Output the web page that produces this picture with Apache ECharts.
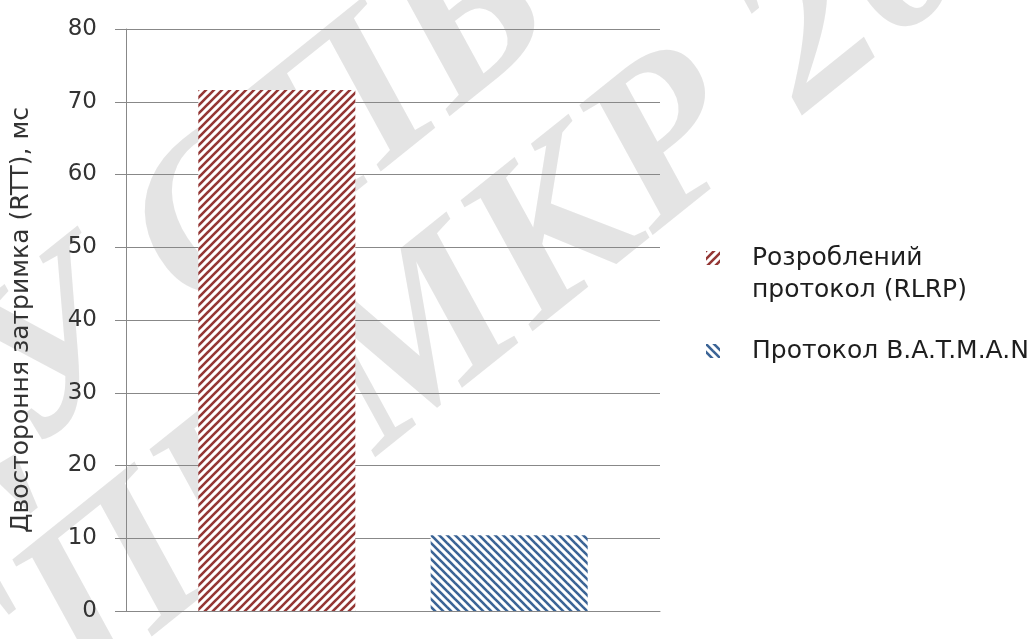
<!DOCTYPE html>
<html>
<head>
<meta charset="utf-8">
<script src="https://cdn.jsdelivr.net/npm/echarts@6/dist/echarts.min.js"></script>
<style>
  html, body { margin: 0; padding: 0; background: #fff; }
  #chart { width: 1029px; height: 639px; }
</style>
</head>
<body>
<div id="chart"></div>
<script>
// Round-trip time of the two routing protocols
const seriesNames = ['Розроблений\nпротокол (RLRP)', 'Протокол B.A.T.M.A.N'];
const rttValues = [71.6, 10.4];
const yTicks = { min: 0, max: 80, step: 10 };
const axisTitle = 'Двостороння затримка (RTT), мс';
const watermarkText = 'ДУ СПБ МКР 2024';

// Diagonal hatch tile; dir = 1 for "/" strokes, -1 for "\" strokes
function hatch(color, dir) {
  const s = 8;
  const c = document.createElement('canvas');
  c.width = s; c.height = s;
  const g = c.getContext('2d');
  g.fillStyle = '#fff';
  g.fillRect(0, 0, s, s);
  g.strokeStyle = color;
  g.lineWidth = 2.6;
  g.lineCap = 'square';
  const segs = dir > 0
    ? [[0, s, s, 0], [-s / 2, s / 2, s / 2, -s / 2], [s / 2, s * 1.5, s * 1.5, s / 2]]
    : [[0, 0, s, s], [-s / 2, s / 2, s / 2, s * 1.5], [s / 2, -s / 2, s * 1.5, s / 2]];
  segs.forEach(([x1, y1, x2, y2]) => {
    g.beginPath(); g.moveTo(x1, y1); g.lineTo(x2, y2); g.stroke();
  });
  return { image: c, repeat: 'repeat' };
}

const fills = [hatch('#943634', 1), hatch('#3b6496', -1)];
const gridColor = '#888888';
const textColor = '#333333';
const legendColor = '#1e1e1e';
const font = 'DejaVu Sans';

// legend swatch sitting at the top of a taller box, so it lines up with the first text line
const topSwatch = 'path://M0,0L14,0L14,14L0,14Z M0,46L14,46';

// two diagonal rows of the watermark stamp
const stampRows = [{ x: -125, y: 502 }, { x: -354, y: 967 }];

const chart = echarts.init(document.getElementById('chart'), null, { renderer: 'canvas' });

chart.setOption({
  animation: false,
  backgroundColor: '#fff',
  grid: { left: 126, right: 369, top: 29, bottom: 28, containLabel: false, outerBoundsMode: 'none' },
  xAxis: {
    type: 'category',
    data: [''],
    axisLine: { show: true, lineStyle: { color: gridColor, width: 1 } },
    axisTick: { show: false },
    axisLabel: { show: false },
    splitLine: { show: false }
  },
  yAxis: {
    type: 'value',
    min: yTicks.min,
    max: yTicks.max,
    interval: yTicks.step,
    name: axisTitle,
    nameLocation: 'middle',
    nameGap: 92,
    nameRotate: 90,
    nameTextStyle: { fontFamily: font, fontSize: 25, color: textColor },
    axisLine: { show: true, lineStyle: { color: gridColor, width: 1 } },
    axisTick: { show: true, length: 11, lineStyle: { color: gridColor, width: 1 } },
    axisLabel: { margin: 29, fontFamily: font, fontSize: 23, color: textColor },
    splitLine: { show: true, lineStyle: { color: gridColor, width: 1 } }
  },
  legend: [
    {
      data: [{ name: seriesNames[0], icon: topSwatch }],
      orient: 'vertical',
      left: 706,
      top: 242,
      padding: 0,
      itemWidth: 14,
      itemHeight: 46,
      textStyle: { fontFamily: font, fontSize: 25, color: legendColor, lineHeight: 32, padding: [0, 0, 0, 27] }
    },
    {
      data: [{ name: seriesNames[1], icon: 'rect' }],
      orient: 'vertical',
      left: 706,
      top: 335,
      padding: 0,
      itemWidth: 14,
      itemHeight: 14,
      textStyle: { fontFamily: font, fontSize: 25, color: legendColor, lineHeight: 32, padding: [0, 0, 0, 27] }
    }
  ],
  series: seriesNames.map((name, i) => ({
    name: name,
    type: 'bar',
    data: [rttValues[i]],
    barWidth: 157,
    barGap: '48%',
    itemStyle: { color: fills[i] }
  })),
  graphic: [
    {
      type: 'group',
      z: 100,
      silent: true,
      children: stampRows.map((p) => ({
        type: 'text',
        x: p.x,
        y: p.y,
        rotation: Math.PI * 0.215,
        style: {
          text: watermarkText,
          font: 'italic bold 225px "Liberation Serif"',
          fill: 'rgba(205,205,205,0.55)',
          verticalAlign: 'middle'
        }
      }))
    }
  ]
});
</script>
</body>
</html>
